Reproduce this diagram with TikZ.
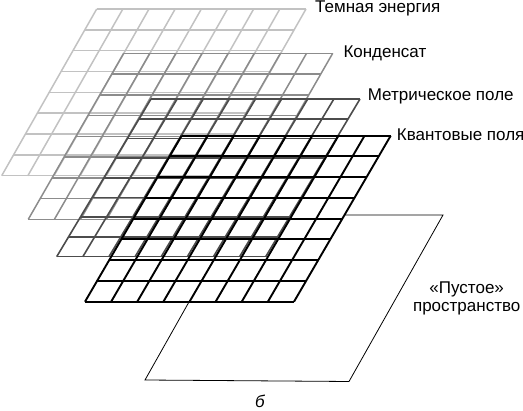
\documentclass[tikz,border=0pt]{standalone}
\usepackage{fontspec}
\setmainfont{Liberation Sans}
\begin{document}
\begin{tikzpicture}[x=1pt,y=-1pt,
  lay1/.style={draw=black!24,line width=1.5pt},
  lay2/.style={draw=black!45,line width=1.5pt},
  lay3/.style={draw=black!70,line width=1.6pt},
  lay4/.style={draw=black,line width=1.9pt},
  plane/.style={draw=black,line width=0.8pt},
  lbl/.style={font=\fontsize{17}{19}\selectfont,inner sep=0pt,anchor=base west},
  lblc/.style={font=\fontsize{17}{19}\selectfont,inner sep=0pt,anchor=base}]
\useasboundingbox (0,0) rectangle (523,411);
\newcommand\gridlayer[6]{%
  \foreach \i in {0,...,8}{%
    \pgfmathsetmacro\hx{#1+#5*\i/8}%
    \pgfmathsetmacro\hy{#2+#4*\i/8}%
    \draw[#6] (\hx,\hy) -- ({\hx+#3},\hy);
    \pgfmathsetmacro\vx{#1+#3*\i/8}%
    \draw[#6] (\vx,#2) -- ({\vx+#5},{#2+#4});
  }}
% empty space plane
\draw[plane] (238,215) -- (443,215) -- (349,381.5) -- (145,380) -- cycle;
% front layer hides the plane
\fill[white] (181.7,135.7) -- ++(209,0) -- ++(-96.7,166) -- ++(-209,0) -- cycle;
\gridlayer{96.7}{9}{209.3}{166.7}{-95}{lay1}
\gridlayer{123.7}{53.3}{209}{166}{-95.4}{lay2}
\gridlayer{151}{99}{209}{157.7}{-94.3}{lay3}
\gridlayer{181.7}{135.7}{209}{166}{-96.7}{lay4}
\node[lbl] (t1) at (315,12.7) {Темная энергия};
\node[lbl] (t2) at (343.3,57.3) {Конденсат};
\node[lbl] (t3) at (367.7,101) {Метрическое поле};
\node[lbl] (t4) at (396.7,140.7) {Квантовые поля};
\node[lblc] (t5) at (466.7,293.3) {«Пустое»};
\node[lblc] (t6) at (466.7,311.7) {пространство};
\node[lblc] (t7) at (260,408) {\itshape б};
\end{tikzpicture}
\end{document}
